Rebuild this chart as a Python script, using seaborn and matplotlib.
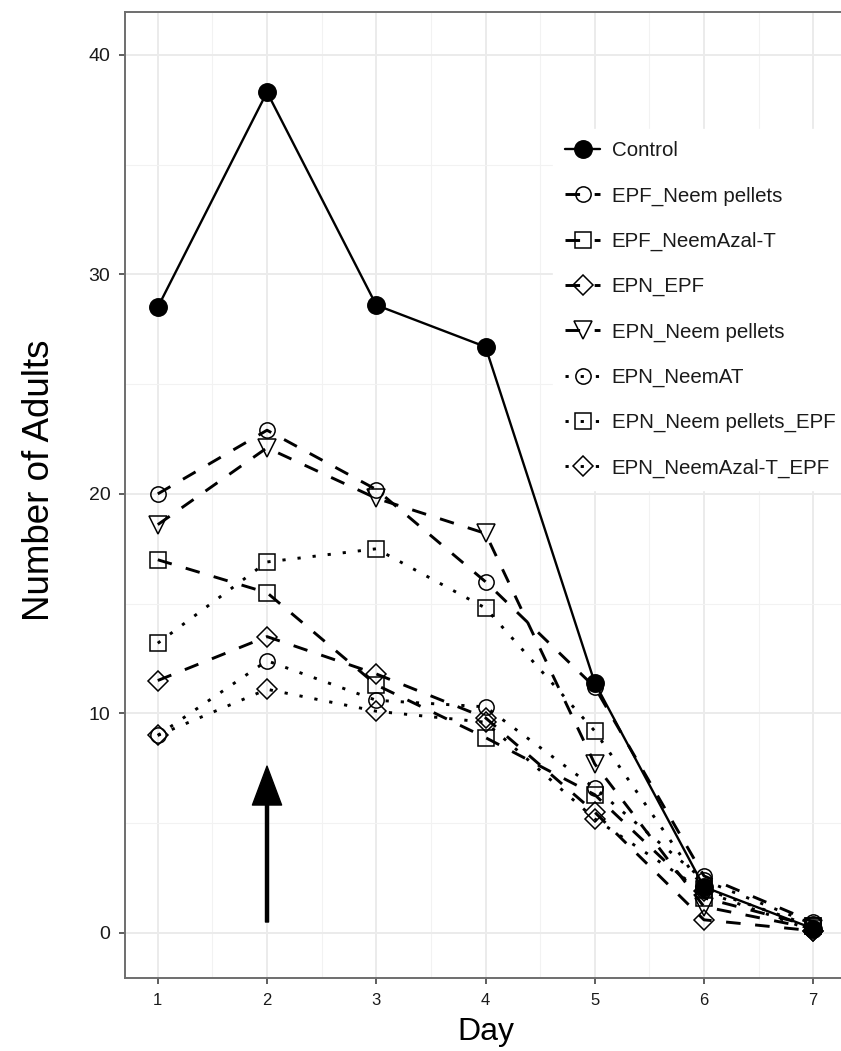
import matplotlib
matplotlib.use("Agg")
import matplotlib.pyplot as plt
from matplotlib.ticker import MultipleLocator
import pandas as pd
import seaborn as sns

# ---- data -------------------------------------------------------------
days = [1, 2, 3, 4, 5, 6, 7]
treatments = [
    "Control",
    "EPF_Neem pellets",
    "EPF_NeemAzal-T",
    "EPN_EPF",
    "EPN_Neem pellets",
    "EPN_NeemAT",
    "EPN_Neem pellets_EPF",
    "EPN_NeemAzal-T_EPF",
]
control = [28.5, 38.3, 28.6, 26.7, 11.4, 2.1, 0.2]
epf_neem_pellets = [20.0, 22.9, 20.2, 16.0, 11.2, 2.6, 0.5]
epf_neemazal_t = [17.0, 15.5, 11.3, 8.9, 6.3, 1.6, 0.3]
epn_epf = [11.5, 13.5, 11.8, 9.8, 5.5, 0.6, 0.1]
epn_neem_pellets = [18.6, 22.1, 19.8, 18.2, 7.7, 1.2, 0.2]
epn_neemat = [9.0, 12.4, 10.6, 10.3, 6.6, 2.4, 0.4]
epn_neem_pellets_epf = [13.2, 16.9, 17.5, 14.8, 9.2, 2.0, 0.3]
epn_neemazal_t_epf = [9.0, 11.1, 10.1, 9.6, 5.2, 1.9, 0.1]

series = [control, epf_neem_pellets, epf_neemazal_t, epn_epf,
          epn_neem_pellets, epn_neemat, epn_neem_pellets_epf, epn_neemazal_t_epf]

# application day marked by the arrow
arrow_day = 2
arrow_from = 0.5
arrow_to = 7.6

df = pd.DataFrame({
    "Day": days * len(treatments),
    "Adults": [v for s in series for v in s],
    "Treatment": [t for t in treatments for _ in days],
})

# ---- styles -----------------------------------------------------------
SOLID = "-"
DASHED = (0, (5.0, 5.0))
DOTTED = (0, (1.1, 4.1))
styles = {
    "Control":              dict(marker="o", ms=12.5, mfc="black", ls=SOLID, lw=1.7),
    "EPF_Neem pellets":     dict(marker="o", ms=11, mfc="none", ls=DASHED, lw=2.1),
    "EPF_NeemAzal-T":       dict(marker="s", ms=12, mfc="none", ls=DASHED, lw=2.1),
    "EPN_EPF":              dict(marker="D", ms=10, mfc="none", ls=DASHED, lw=2.1),
    "EPN_Neem pellets":     dict(marker="v", ms=13, mfc="none", ls=DASHED, lw=2.1),
    "EPN_NeemAT":           dict(marker="o", ms=11, mfc="none", ls=DOTTED, lw=2.1),
    "EPN_Neem pellets_EPF": dict(marker="s", ms=12, mfc="none", ls=DOTTED, lw=2.1),
    "EPN_NeemAzal-T_EPF":   dict(marker="D", ms=10, mfc="none", ls=DOTTED, lw=2.1),
}

sns.set_theme(style="whitegrid")
plt.rcParams["font.family"] = ["Liberation Sans", "DejaVu Sans"]

W, H = 841, 1051
fig = plt.figure(figsize=(W / 100, H / 100), dpi=100)
left, right, top, bottom = 125, 846, 12, 978
ax = fig.add_axes([left / W, 1 - bottom / H, (right - left) / W, (bottom - top) / H])
ax.set_facecolor("white")

handles = []
for name in treatments:
    st = styles[name]
    sub = df[df["Treatment"] == name]
    sns.lineplot(data=sub, x="Day", y="Adults", ax=ax, color="black",
                 marker=st["marker"], markersize=st["ms"],
                 markerfacecolor=st["mfc"], markeredgecolor="black",
                 markeredgewidth=1.1, linestyle=st["ls"], linewidth=st["lw"],
                 label=name, legend=False, zorder=3)
    handles.append(ax.get_lines()[-1])

ax.annotate("", xy=(arrow_day, arrow_to), xytext=(arrow_day, arrow_from),
            arrowprops=dict(facecolor="black", edgecolor="black", width=2.2,
                            headwidth=21, headlength=28, shrink=0.0),
            zorder=4)

# ---- axes -------------------------------------------------------------
ax.set_xlim(0.7, 7.3)
ax.set_ylim(-2.05, 41.95)
ax.set_xticks(days)
ax.set_yticks([0, 10, 20, 30, 40])
ax.xaxis.set_minor_locator(MultipleLocator(0.5))
ax.yaxis.set_minor_locator(MultipleLocator(5))
ax.grid(which="major", color="#ebebeb", linewidth=1.4)
ax.grid(which="minor", color="#f2f2f2", linewidth=0.8)
ax.set_axisbelow(True)

for side, sp in ax.spines.items():
    sp.set_visible(True)
    sp.set_color("#6e6e6e")
    sp.set_linewidth(1.4)

ax.tick_params(axis="x", which="major", length=4.5, width=1.1, color="#333333",
               labelsize=12, labelcolor="#1a1a1a", pad=6, bottom=True)
ax.tick_params(axis="y", which="major", length=4.5, width=1.1, color="#333333",
               labelsize=14, labelcolor="#1a1a1a", pad=6, left=True)
ax.tick_params(axis="both", which="minor", length=0)

ax.set_xlabel("Day", fontsize=23, labelpad=7, color="black")
ax.set_ylabel("Number of Adults", fontsize=26.5, color="black")
ax.yaxis.set_label_coords(-0.095, 0.515)

leg = ax.legend(handles=handles, labels=treatments, loc="upper left",
                bbox_to_anchor=(553 / W, 1 - 129 / H), bbox_transform=fig.transFigure,
                frameon=True, fontsize=14.8, handlelength=1.7, handletextpad=0.55,
                labelspacing=1.27, borderpad=0.6, borderaxespad=0)
leg.get_frame().set_facecolor("white")
leg.get_frame().set_edgecolor("white")
leg.get_frame().set_alpha(1)
for t in leg.get_texts():
    t.set_color("#1a1a1a")

fig.savefig("out.png", dpi=100)
